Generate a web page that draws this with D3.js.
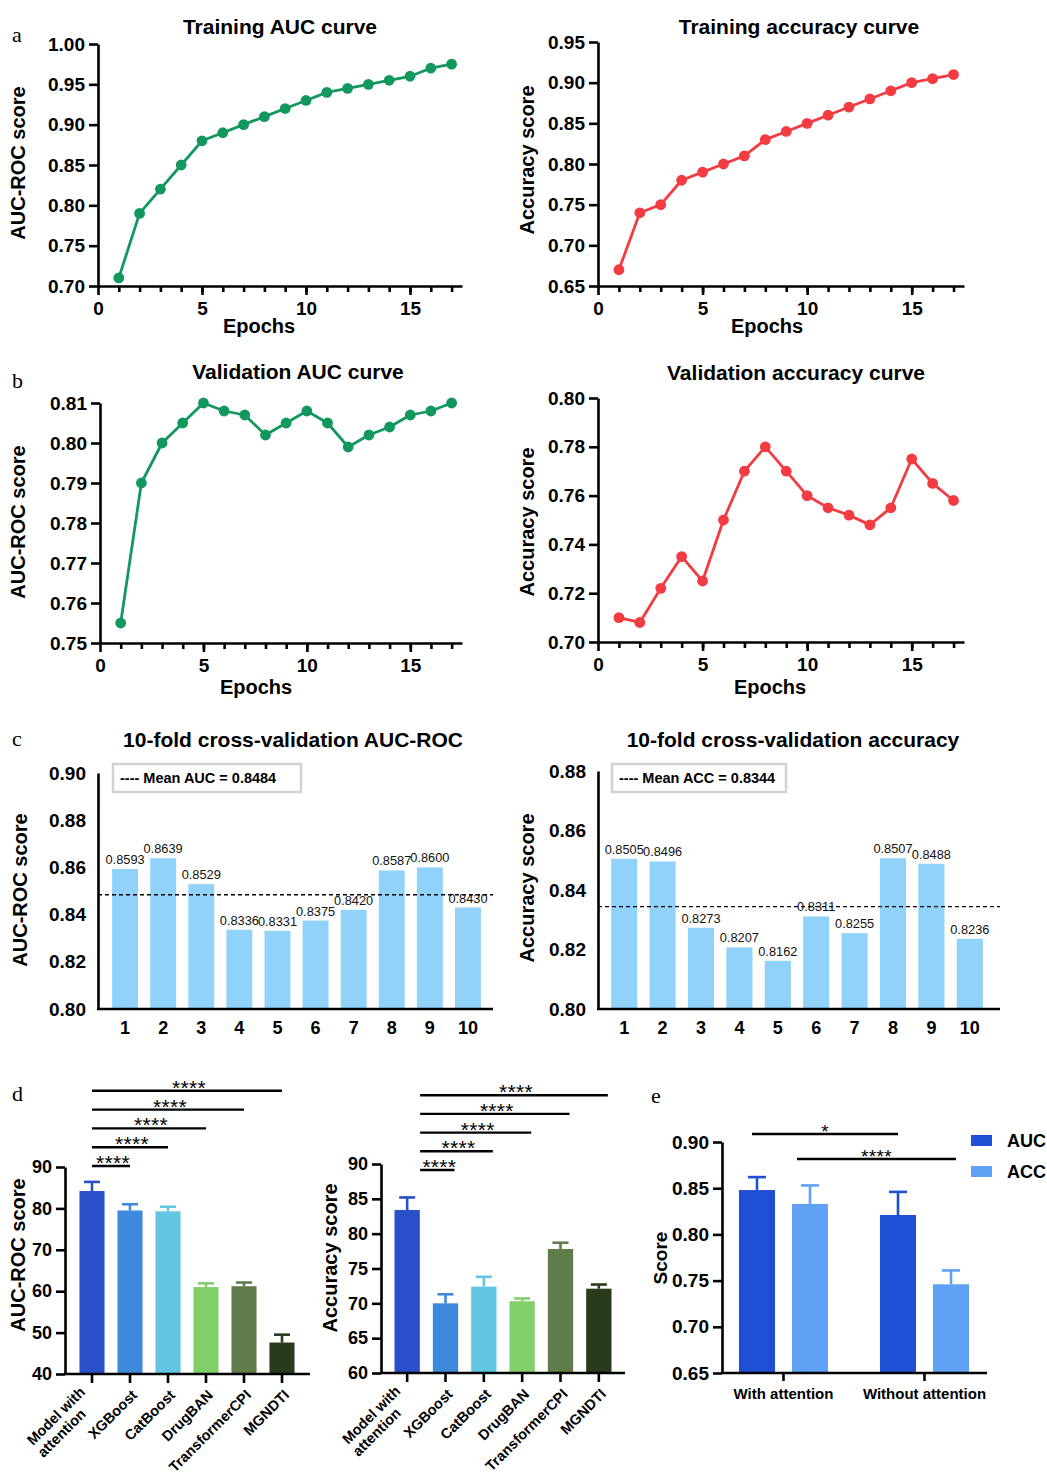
<!DOCTYPE html>
<html><head><meta charset="utf-8">
<script src="https://cdn.jsdelivr.net/npm/d3@7"></script>
<style>body{margin:0;background:#fff} svg{display:block}</style>
</head><body><svg id="c" width="1047" height="1474"></svg>
<script>
// ---------------- DATA ----------------
const epochs = [1,2,3,4,5,6,7,8,9,10,11,12,13,14,15,16,17];
const epochTicks = [0,5,10,15];
const trainAUC = [0.71,0.79,0.82,0.85,0.88,0.89,0.90,0.91,0.92,0.93,0.94,0.945,0.95,0.955,0.96,0.97,0.975];
const trainACC = [0.67,0.74,0.75,0.78,0.79,0.80,0.81,0.83,0.84,0.85,0.86,0.87,0.88,0.89,0.90,0.905,0.91];
const valAUC = [0.755,0.79,0.80,0.805,0.81,0.808,0.807,0.802,0.805,0.808,0.805,0.799,0.802,0.804,0.807,0.808,0.81];
const valACC = [0.71,0.708,0.722,0.735,0.725,0.75,0.77,0.78,0.77,0.76,0.755,0.752,0.748,0.755,0.775,0.765,0.758];
const trainAUCTicks = [0.70,0.75,0.80,0.85,0.90,0.95,1.00];
const trainACCTicks = [0.65,0.70,0.75,0.80,0.85,0.90,0.95];
const valAUCTicks = [0.75,0.76,0.77,0.78,0.79,0.80,0.81];
const valACCTicks = [0.70,0.72,0.74,0.76,0.78,0.80];

const folds = ['1','2','3','4','5','6','7','8','9','10'];
const cvAUC = [0.8593,0.8639,0.8529,0.8336,0.8331,0.8375,0.8420,0.8587,0.8600,0.8430];
const cvACC = [0.8505,0.8496,0.8273,0.8207,0.8162,0.8311,0.8255,0.8507,0.8488,0.8236];
const meanAUC = 0.8484;
const meanACC = 0.8344;
const cvAUCTicks = [0.80,0.82,0.84,0.86,0.88,0.90];
const cvACCTicks = [0.80,0.82,0.84,0.86,0.88];

const models = ['Model with attention','XGBoost','CatBoost','DrugBAN','TransformerCPI','MGNDTI'];
const modelAUC = [84.2,79.5,79.3,61.0,61.2,47.6];
const modelAUCErr = [2.2,1.5,1.1,0.9,0.9,1.9];
const modelACC = [83.4,70.0,72.4,70.3,77.8,72.1];
const modelACCErr = [1.8,1.3,1.4,0.4,0.9,0.6];
const modelAUCTicks = [40,50,60,70,80,90];
const modelACCTicks = [60,65,70,75,80,85,90];
const modelSig = ['****','****','****','****','****'];

const ablationGroups = ['With attention','Without attention'];
const ablationMetrics = ['AUC','ACC'];
const ablationAUC = [0.848,0.821];
const ablationAUCErr = [0.014,0.025];
const ablationACC = [0.833,0.746];
const ablationACCErr = [0.020,0.015];
const ablationTicks = [0.65,0.70,0.75,0.80,0.85,0.90];
const ablationSig = ['*','****'];

// ---------------- STYLE ----------------
const FONT = '"Liberation Sans", Arial, Helvetica, sans-serif';
const SERIF = '"Liberation Serif", "Times New Roman", serif';
const GREEN = '#12985f';
const RED = '#f23c41';
const CVBLUE = '#90d2f9';
const modelColors = ['#2950c9','#3d89dc','#62c5e1','#80cf6b','#5f7c4a','#2a3a1c'];
const ablationColors = {AUC:'#1f4fd5', ACC:'#5fa2f5'};

const svg = d3.select('#c');
svg.append('rect').attr('width',1047).attr('height',1474).attr('fill','#fff');

function styleAxis(g, fs){
  g.selectAll('path.domain').attr('stroke','#000').attr('stroke-width',2.6);
  g.selectAll('.tick line').attr('stroke','#000').attr('stroke-width',2.6);
  g.selectAll('.tick text').attr('font-family',FONT).attr('font-weight','bold')
    .attr('font-size',fs).attr('fill','#000');
}
function txt(t, x, y, o={}){
  return svg.append('text').attr('x',x).attr('y',y).text(t)
    .attr('font-family',o.family||FONT).attr('font-weight',o.weight||'bold')
    .attr('font-size',o.size||20).attr('text-anchor',o.anchor||'middle').attr('fill','#000');
}
function yLabel(t, x, y, size){
  svg.append('text').attr('transform',`translate(${x},${y}) rotate(-90)`)
    .attr('dy','0.35em').attr('text-anchor','middle')
    .attr('font-family',FONT).attr('font-weight','bold').attr('font-size',size||20).text(t);
}

// ---------------- LINE CHARTS ----------------
function lineChart(o){
  const x = d3.scaleLinear().domain([0,17.5]).range([o.left,o.right]);
  const y = d3.scaleLinear().domain([o.ticks[0], o.ticks[o.ticks.length-1]]).range([o.bottom,o.top]);
  const g = svg.append('g');
  const ya = g.append('g').attr('transform',`translate(${o.left},0)`)
    .call(d3.axisLeft(y).tickValues(o.ticks).tickFormat(d3.format('.2f')).tickSize(9).tickSizeOuter(0).tickPadding(4));
  styleAxis(ya,19);
  const xm = g.append('g').attr('transform',`translate(0,${o.bottom})`)
    .call(d3.axisBottom(x).tickValues(epochs).tickFormat('').tickSize(6).tickSizeOuter(0));
  styleAxis(xm,19);
  const xa = g.append('g').attr('transform',`translate(0,${o.bottom})`)
    .call(d3.axisBottom(x).tickValues(epochTicks).tickFormat(d3.format('d')).tickSize(9).tickSizeOuter(0).tickPadding(7));
  styleAxis(xa,19);
  xa.select('path.domain').remove();
  const line = d3.line().x((d,i)=>x(epochs[i])).y(d=>y(d));
  g.append('path').datum(o.data).attr('d',line).attr('fill','none')
    .attr('stroke',o.color).attr('stroke-width',2.8).attr('stroke-linejoin','round');
  g.selectAll('circle.pt').data(o.data).join('circle')
    .attr('cx',(d,i)=>x(epochs[i])).attr('cy',d=>y(d)).attr('r',5.4).attr('fill',o.color);
  txt(o.title, o.titleX, o.titleY, {size:21});
  txt('Epochs', o.epX, o.epY, {size:20});
  yLabel(o.ylabel, o.ylX, o.ylY, 20);
}
lineChart({left:98,right:462,top:44,bottom:286,ticks:trainAUCTicks,data:trainAUC,color:GREEN,
  title:'Training AUC curve',titleX:280,titleY:34,epX:259,epY:333,ylabel:'AUC-ROC score',ylX:18,ylY:163});
lineChart({left:598,right:964,top:42,bottom:286,ticks:trainACCTicks,data:trainACC,color:RED,
  title:'Training accuracy curve',titleX:799,titleY:34,epX:767,epY:333,ylabel:'Accuracy score',ylX:527,ylY:160});
lineChart({left:100,right:462,top:403,bottom:643,ticks:valAUCTicks,data:valAUC,color:GREEN,
  title:'Validation AUC curve',titleX:298,titleY:379,epX:256,epY:694,ylabel:'AUC-ROC score',ylX:18,ylY:522});
lineChart({left:598,right:964,top:398,bottom:642,ticks:valACCTicks,data:valACC,color:RED,
  title:'Validation accuracy curve',titleX:796,titleY:380,epX:770,epY:694,ylabel:'Accuracy score',ylX:527,ylY:522});

// ---------------- CV BAR CHARTS ----------------
function cvChart(o){
  const x = d3.scaleBand().domain(folds).range([o.bandL,o.bandR]).paddingInner(0.32).paddingOuter(0.16);
  const y = d3.scaleLinear().domain([o.ticks[0], o.ticks[o.ticks.length-1]]).range([o.bottom,o.top]);
  const g = svg.append('g');
  g.selectAll('rect.bar').data(o.data).join('rect')
    .attr('x',(d,i)=>x(folds[i])).attr('width',x.bandwidth())
    .attr('y',d=>y(d)).attr('height',d=>o.bottom-y(d)).attr('fill',CVBLUE);
  g.selectAll('text.v').data(o.data).join('text')
    .attr('x',(d,i)=>x(folds[i])+x.bandwidth()/2).attr('y',d=>y(d)-5)
    .attr('text-anchor','middle').attr('font-family',FONT).attr('font-size',12.8).attr('fill','#111')
    .text(d=>d.toFixed(4));
  g.append('line').attr('x1',o.left).attr('x2',o.right).attr('y1',y(o.mean)).attr('y2',y(o.mean))
    .attr('stroke','#000').attr('stroke-width',1.4).attr('stroke-dasharray','4,3');
  const ya = g.append('g').attr('transform',`translate(${o.left},0)`)
    .call(d3.axisLeft(y).tickValues(o.ticks).tickFormat(d3.format('.2f')).tickSize(0).tickSizeOuter(0).tickPadding(12));
  styleAxis(ya,19);
  const xa = g.append('g').attr('transform',`translate(0,${o.bottom})`)
    .call(d3.axisBottom(x).tickSize(0).tickPadding(12));
  styleAxis(xa,18);
  xa.select('path.domain').remove();
  g.append('line').attr('x1',o.left-1).attr('x2',o.right).attr('y1',o.bottom).attr('y2',o.bottom)
    .attr('stroke','#000').attr('stroke-width',2.6);
  // legend
  g.append('rect').attr('x',o.lg[0]).attr('y',o.lg[1]).attr('width',o.lg[2]).attr('height',28)
    .attr('fill','#fff').attr('stroke','#d2d2d2').attr('stroke-width',2.5);
  txt(o.legend, o.lg[0]+7, o.lg[1]+19, {size:14.5, anchor:'start'});
  txt(o.title, o.titleX, 747, {size:21});
  yLabel(o.ylabel, o.ylX, o.ylY, 20);
}
cvChart({left:98,right:493,bandL:106,bandR:487,top:773,bottom:1009,ticks:cvAUCTicks,data:cvAUC,mean:meanAUC,
  lg:[113,764,188],legend:'---- Mean AUC = '+meanAUC.toFixed(4),title:'10-fold cross-validation AUC-ROC',titleX:293,ylabel:'AUC-ROC score',ylX:20,ylY:890});
cvChart({left:598,right:1000,bandL:605,bandR:989,top:771,bottom:1009,ticks:cvACCTicks,data:cvACC,mean:meanACC,
  lg:[612,764,174],legend:'---- Mean ACC = '+meanACC.toFixed(4),title:'10-fold cross-validation accuracy',titleX:793,ylabel:'Accuracy score',ylX:527,ylY:888});

// ---------------- MODEL COMPARISON ----------------
function modelChart(o){
  const x = d3.scaleBand().domain(models).range([o.bandL,o.bandR]).paddingInner(0.34).paddingOuter(0.17);
  const y = d3.scaleLinear().domain([o.ticks[0], o.ticks[o.ticks.length-1]]).range([o.bottom,o.top]);
  const g = svg.append('g');
  const cx = i => x(models[i]) + x.bandwidth()/2;
  // error bars
  o.data.forEach((d,i)=>{
    const top = y(d + o.err[i]);
    g.append('line').attr('x1',cx(i)).attr('x2',cx(i)).attr('y1',y(d)).attr('y2',top)
      .attr('stroke',modelColors[i]).attr('stroke-width',2.6);
    g.append('line').attr('x1',cx(i)-8).attr('x2',cx(i)+8).attr('y1',top).attr('y2',top)
      .attr('stroke',modelColors[i]).attr('stroke-width',2.6);
  });
  g.selectAll('rect.bar').data(o.data).join('rect')
    .attr('x',(d,i)=>x(models[i])).attr('width',x.bandwidth())
    .attr('y',d=>y(d)).attr('height',d=>o.bottom-y(d)).attr('fill',(d,i)=>modelColors[i]);
  const ya = g.append('g').attr('transform',`translate(${o.left},0)`)
    .call(d3.axisLeft(y).tickValues(o.ticks).tickFormat(d3.format('d')).tickSize(9).tickSizeOuter(0).tickPadding(4));
  styleAxis(ya,18);
  const xa = g.append('g').attr('transform',`translate(0,${o.bottom})`)
    .call(d3.axisBottom(x).tickSize(9).tickFormat(''));
  styleAxis(xa,15);
  xa.select('path.domain').remove();
  g.append('line').attr('x1',o.left-1).attr('x2',o.right).attr('y1',o.bottom).attr('y2',o.bottom)
    .attr('stroke','#000').attr('stroke-width',2.6);
  // rotated labels
  models.forEach((m,i)=>{
    const words = m === 'Model with attention' ? ['Model with','attention'] : [m];
    const t = g.append('text').attr('transform',`translate(${cx(i)+(words.length>1?-6:8)},${o.bottom+(words.length>1?19:22)}) rotate(-45)`)
      .attr('text-anchor','end').attr('font-family',FONT).attr('font-weight','bold').attr('font-size',14.5);
    words.forEach((w,k)=>t.append('tspan').attr('x',k? -15:0).attr('dy',k?16:0).text(w));
  });
  // significance
  o.sig.forEach((s,k)=>{
    const ly = o.sigY0 - o.sigStep*k;
    const x1 = cx(0)+o.sigOff[0], x2 = cx(k+1)+o.sigOff[1];
    g.append('line').attr('x1',x1).attr('x2',x2).attr('y1',ly).attr('y2',ly).attr('stroke','#000').attr('stroke-width',2.4);
    g.append('text').attr('x',(x1+x2)/2+2).attr('y',ly+4).attr('text-anchor','middle')
      .attr('font-family',FONT).attr('font-size',21).attr('letter-spacing',0.3).text(s);
  });
  yLabel(o.ylabel, o.ylX, o.ylY, 20);
}
modelChart({left:65,right:310,bandL:73,bandR:301,top:1167,bottom:1374,ticks:modelAUCTicks,data:modelAUC,err:modelAUCErr,
  sig:modelSig,sigY0:1166,sigStep:18.8,sigOff:[0,0],ylabel:'AUC-ROC score',ylX:18,ylY:1255});
modelChart({left:381,right:625,bandL:388,bandR:618,top:1164,bottom:1373,ticks:modelACCTicks,data:modelACC,err:modelACCErr,
  sig:modelSig,sigY0:1170,sigStep:18.7,sigOff:[13,9],ylabel:'Accuracy score',ylX:330,ylY:1258});

// ---------------- ABLATION ----------------
(function(){
  const left=722,right=987,top=1142,bottom=1373;
  const gx = d3.scaleBand().domain(ablationGroups).range([713,995]);
  const ix = d3.scaleBand().domain(ablationMetrics).range([-53,53]).paddingInner(0.32).paddingOuter(0.16);
  const y = d3.scaleLinear().domain([ablationTicks[0], ablationTicks[ablationTicks.length-1]]).range([bottom,top]);
  const g = svg.append('g');
  const series = {AUC:[ablationAUC,ablationAUCErr], ACC:[ablationACC,ablationACCErr]};
  const bx = (grp,m) => gx(grp)+gx.bandwidth()/2+ix(m);
  ablationGroups.forEach((grp,gi)=>{
    ablationMetrics.forEach(m=>{
      const v = series[m][0][gi], e = series[m][1][gi];
      const c = bx(grp,m)+ix.bandwidth()/2;
      g.append('line').attr('x1',c).attr('x2',c).attr('y1',y(v)).attr('y2',y(v+e)).attr('stroke',ablationColors[m]).attr('stroke-width',2.6);
      g.append('line').attr('x1',c-9).attr('x2',c+9).attr('y1',y(v+e)).attr('y2',y(v+e)).attr('stroke',ablationColors[m]).attr('stroke-width',2.6);
      g.append('rect').attr('x',bx(grp,m)).attr('width',ix.bandwidth()).attr('y',y(v)).attr('height',bottom-y(v)).attr('fill',ablationColors[m]);
    });
  });
  const ya = g.append('g').attr('transform',`translate(${left},0)`)
    .call(d3.axisLeft(y).tickValues(ablationTicks).tickFormat(d3.format('.2f')).tickSize(9).tickSizeOuter(0).tickPadding(4));
  styleAxis(ya,19);
  const xa = g.append('g').attr('transform',`translate(0,${bottom})`)
    .call(d3.axisBottom(gx).tickSize(8).tickPadding(7));
  styleAxis(xa,15);
  xa.select('path.domain').remove();
  g.append('line').attr('x1',left-1).attr('x2',right).attr('y1',bottom).attr('y2',bottom).attr('stroke','#000').attr('stroke-width',2.6);
  // significance
  const c = (grp,m) => bx(grp,m)+ix.bandwidth()/2;
  const sigs = [[c(ablationGroups[0],'AUC')-5, c(ablationGroups[1],'AUC'), 1134],
                [c(ablationGroups[0],'ACC')-13, c(ablationGroups[1],'ACC')+5, 1159]];
  sigs.forEach((s,k)=>{
    g.append('line').attr('x1',s[0]).attr('x2',s[1]).attr('y1',s[2]).attr('y2',s[2]).attr('stroke','#000').attr('stroke-width',2.4);
    g.append('text').attr('x',(s[0]+s[1])/2).attr('y',s[2]+4).attr('text-anchor','middle')
      .attr('font-family',FONT).attr('font-size',19).attr('letter-spacing',0.3).text(ablationSig[k]);
  });
  // legend
  ablationMetrics.forEach((m,k)=>{
    g.append('rect').attr('x',971).attr('y',1135+31*k).attr('width',21).attr('height',11).attr('fill',ablationColors[m]);
    txt(m, 1007, 1147+31*k, {size:18, anchor:'start'});
  });
  yLabel('Score', 660, 1258, 19);
})();

// ---------------- PANEL LETTERS ----------------
[['a',12,42],['b',12,388],['c',12,746],['d',12,1101],['e',651,1103]].forEach(p=>{
  txt(p[0], p[1], p[2], {family:SERIF, weight:'normal', size:22, anchor:'start'});
});
</script>
</body></html>
